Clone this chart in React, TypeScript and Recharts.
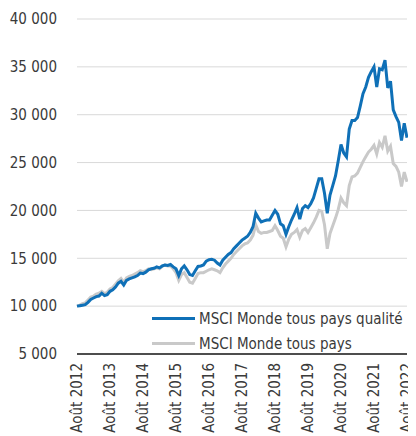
import React from "react";
import { LineChart, Line, XAxis, YAxis, CartesianGrid, Legend } from "recharts";

// Valeurs mensuelles, août 2012 à août 2022 (base 10 000)
const qualite = [
  10000, 10050, 10100, 10150, 10400, 10700, 10850, 11000, 11050, 11350, 11100, 11200,
  11550, 11700, 12000, 12400, 12600, 12200, 12700, 12850, 12950, 13050, 13200, 13450,
  13400, 13550, 13800, 13900, 13950, 14100, 14000, 14200, 14300, 14250, 14350, 14100,
  13900, 13200, 13900, 14200, 13800, 13300, 13200, 13700, 14150, 14200, 14300, 14700,
  14850, 14900, 14800, 14500, 14300, 14800, 15100, 15400, 15600, 16000, 16300, 16600,
  16900, 17100, 17300, 17700, 18300, 19700, 19200, 18800, 18900, 19000, 19000, 19500,
  20000, 19600, 18600, 18400, 17500, 18300, 19000, 19600, 20300, 19100, 20200, 20500,
  20300, 20700, 21300, 22300, 23300, 23300, 21800, 19700, 21600, 22600, 23600, 25200,
  26900, 26000, 25600, 28500, 29400, 29400, 29700, 30900, 32200, 32900, 33900, 34500,
  35000, 32900, 34800, 34700, 35700, 32800, 33500, 30500, 29800, 29200, 27300, 29100,
  27600,
];

const monde = [
  10000, 10100, 10250, 10350, 10650, 10950, 11050, 11250, 11350, 11550, 11300, 11450,
  11800, 11950, 12300, 12650, 12900, 12500, 12950, 13100, 13200, 13350, 13500, 13700,
  13600, 13700, 13900, 13800, 13900, 14000, 13900, 14150, 14300, 14200, 14200, 13900,
  13500, 12700, 13300, 13500, 13000, 12500, 12400, 12900, 13400, 13500, 13500, 13650,
  13800, 13900, 13800, 13700, 13500, 14000, 14400, 14700, 15000, 15400, 15700, 16000,
  16300, 16500, 16600, 16900, 17400, 18500, 17800, 17600, 17700, 17700, 17800, 17900,
  18400, 17900, 17300, 17100, 16200, 17000, 17500, 17700, 18000, 17200, 17900, 18100,
  17700, 18200, 18700, 19300, 20000, 19900, 18500, 16000, 17600, 18400, 19200, 20100,
  21300, 20800, 20500, 22600, 23500, 23600, 23900, 24500, 25100, 25600, 26100, 26400,
  26800, 25900, 27100, 26600, 27800, 26200, 26700, 24900, 24600, 24000, 22500, 24000,
  23000,
];

const tickLabels = [
  "Août 2012", "Août 2013", "Août 2014", "Août 2015", "Août 2016", "Août 2017",
  "Août 2018", "Août 2019", "Août 2020", "Août 2021", "Août 2022",
];

const yTicks = [5000, 10000, 15000, 20000, 25000, 30000, 35000, 40000];

const data = qualite.map((q, i) => ({ m: i, qualite: q, monde: monde[i] }));
const xTicks = tickLabels.map((_, k) => k * 12);

const FONT = "'DejaVu Sans', sans-serif";
const TEXT = "#3a3a3a";
const BLUE = "#0f70b7";
const GRAY = "#c9c9c9";
const FS = 15;

const fmt = (v: number) => String(v).replace(/\B(?=(\d{3})+(?!\d))/g, " ");

const XTick = ({ x, y, payload }: any) => (
  <text
    x={x}
    y={y + 1}
    transform={`rotate(-90 ${x} ${y + 1})`}
    textAnchor="end"
    dy="0.3em"
    fontSize={FS}
    fontFamily={FONT}
    style={{ fontStretch: "condensed" }}
    fill={TEXT}
  >
    {tickLabels[payload.value / 12]}
  </text>
);

const legendItems = [
  { label: "MSCI Monde tous pays qualité", color: BLUE },
  { label: "MSCI Monde tous pays", color: GRAY },
];

const renderLegend = () => (
  <div style={{ fontFamily: FONT, fontSize: FS, fontStretch: "condensed", color: TEXT }}>
    {legendItems.map((it) => (
      <div key={it.label} style={{ display: "flex", alignItems: "center", height: 25, whiteSpace: "nowrap" }}>
        <span style={{ display: "inline-block", width: 43, height: 3, background: it.color, marginRight: 4 }} />
        <span>{it.label}</span>
      </div>
    ))}
  </div>
);

export default function App() {
  return (
    <LineChart
      width={408}
      height={428}
      data={data}
      margin={{ top: 11, right: 9, left: 0, bottom: 0 }}
      style={{ overflow: "visible" }}
    >
      <CartesianGrid horizontal vertical={false} stroke="#d9d9d9" strokeWidth={1} />
      <XAxis
        dataKey="m"
        type="number"
        domain={[0, 120]}
        ticks={xTicks}
        interval={0}
        height={82}
        tickLine={false}
        axisLine={{ stroke: "#1a1a1a", strokeWidth: 1.5 }}
        tick={<XTick />}
      />
      <YAxis
        domain={[5000, 40000]}
        ticks={yTicks}
        width={69}
        axisLine={false}
        tickLine={false}
        tickMargin={14}
        tickFormatter={fmt}
        tick={{ fontSize: FS, fontFamily: FONT, fill: TEXT, style: { fontStretch: "condensed" } }}
      />
      <Legend
        layout="vertical"
        align="center"
        verticalAlign="middle"
        content={renderLegend}
        wrapperStyle={{ left: 144, top: 298, width: 260 }}
      />
      <Line type="linear" dataKey="monde" stroke={GRAY} strokeWidth={3} dot={false} isAnimationActive={false} />
      <Line type="linear" dataKey="qualite" stroke={BLUE} strokeWidth={3} dot={false} isAnimationActive={false} />
    </LineChart>
  );
}
